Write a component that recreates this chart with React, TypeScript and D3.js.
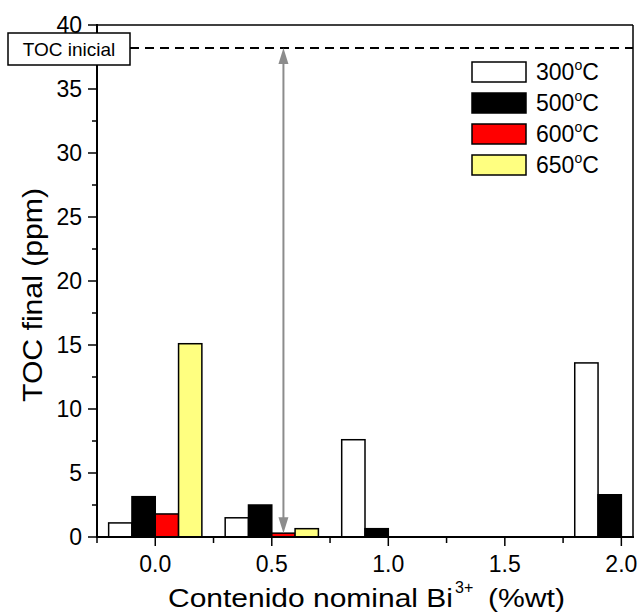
import React from "react";
import * as d3 from "d3";

const categories = [0.0, 0.5, 1.0, 1.5, 2.0];
const seriesNames = ["300", "500", "600", "650"];
const values300: (number | null)[] = [1.1, 1.5, 7.6, null, 13.6];
const values500: (number | null)[] = [3.15, 2.5, 0.65, null, 3.3];
const values600: (number | null)[] = [1.8, 0.3, null, null, null];
const values650: (number | null)[] = [15.1, 0.65, null, null, null];
const yTickValues = [0, 5, 10, 15, 20, 25, 30, 35, 40];
const xTickValues = [0.0, 0.5, 1.0, 1.5, 2.0];
const tocInicial = 38.2;
const arrowX = 0.55;
const arrowBottom = 0.3;

const seriesValues = [values300, values500, values600, values650];
const seriesColors = ["#ffffff", "#000000", "#ff0000", "#ffff80"];

const FONT = "Arial, 'Liberation Sans', sans-serif";

export default function App() {
  const left = 97, right = 633, top = 25, bottom = 537;
  const x = d3.scaleLinear().domain([-0.25, 2.05]).range([left, right]);
  const y = d3.scaleLinear().domain([0, 40]).range([bottom, top]);
  const barW = 0.1;
  const yMinor = d3.range(2.5, 40, 5);
  const xMinor = d3.range(-0.25, 2.0, 0.5);

  const yToc = y(tocInicial);
  const ax = x(arrowX);
  const aTop = y(tocInicial);
  const aBot = y(arrowBottom);
  const grey = "#8c8c8c";

  return (
    <svg width={642} height={614} style={{ position: "absolute", left: 0, top: 0, background: "#fff" }} fontFamily={FONT}>
      <rect x={0} y={0} width={642} height={614} fill="#fff" />
      {/* bars */}
      {seriesValues.map((vals, si) =>
        vals.map((v, ci) =>
          v == null ? null : (
            <rect
              key={`b-${si}-${ci}`}
              x={x(categories[ci] - 0.2 + si * barW)}
              y={y(v)}
              width={x(barW) - x(0)}
              height={y(0) - y(v)}
              fill={seriesColors[si]}
              stroke="#000"
              strokeWidth={1.5}
            />
          )
        )
      )}
      {/* frame */}
      <line x1={left} x2={right} y1={top} y2={top} stroke="#000" strokeWidth={1.5} />
      <line x1={right} x2={right} y1={top} y2={bottom} stroke="#000" strokeWidth={1.5} />
      <line x1={left} x2={left} y1={top - 1} y2={bottom + 1} stroke="#000" strokeWidth={2} />
      <line x1={left - 1} x2={right + 1} y1={bottom} y2={bottom} stroke="#000" strokeWidth={2} />
      {/* y ticks */}
      {yTickValues.map((t) => (
        <g key={`yt-${t}`}>
          <line x1={left - 9} x2={left} y1={y(t)} y2={y(t)} stroke="#000" strokeWidth={1.5} />
          <text x={82} y={y(t)} dy="0.36em" textAnchor="end" fontSize={23}>
            {t}
          </text>
        </g>
      ))}
      {yMinor.map((t) => (
        <line key={`ym-${t}`} x1={left - 5} x2={left} y1={y(t)} y2={y(t)} stroke="#000" strokeWidth={1.5} />
      ))}
      {/* x ticks */}
      {xTickValues.map((t) => (
        <g key={`xt-${t}`}>
          <line x1={x(t)} x2={x(t)} y1={bottom} y2={bottom + 9} stroke="#000" strokeWidth={1.5} />
          <text x={x(t)} y={572} textAnchor="middle" fontSize={23}>
            {d3.format(".1f")(t)}
          </text>
        </g>
      ))}
      {xMinor.map((t) => (
        <line key={`xm-${t}`} x1={x(t)} x2={x(t)} y1={bottom} y2={bottom + 6} stroke="#000" strokeWidth={1.5} />
      ))}
      {/* TOC inicial dashed line */}
      <line x1={130} x2={right} y1={yToc} y2={yToc} stroke="#000" strokeWidth={2} strokeDasharray="9 6" />
      <rect x={8} y={33} width={122} height={32} fill="#fff" stroke="#000" strokeWidth={1.5} />
      <text x={69} y={56} textAnchor="middle" fontSize={19}>TOC inicial</text>
      {/* arrow */}
      <line x1={ax} x2={ax} y1={aTop + 12} y2={aBot - 12} stroke={grey} strokeWidth={2} />
      <path d={`M${ax},${aTop} L${ax - 5},${aTop + 16} L${ax + 5},${aTop + 16} Z`} fill={grey} />
      <path d={`M${ax},${aBot} L${ax - 5},${aBot - 16} L${ax + 5},${aBot - 16} Z`} fill={grey} />
      {/* legend */}
      {seriesNames.map((s, i) => (
        <g key={`lg-${s}`} transform={`translate(0, ${i * 31})`}>
          <rect x={472} y={62} width={54} height={20} fill={seriesColors[i]} stroke="#000" strokeWidth={1.5} />
          <text x={536} y={80} fontSize={23}>
            {s}
            <tspan fontSize={14} dy={-10}>o</tspan>
            <tspan dy={10}>C</tspan>
          </text>
        </g>
      ))}
      {/* axis titles */}
      <text
        transform="translate(42,295) rotate(-90)"
        textAnchor="middle"
        fontSize={27}
        textLength={214}
        lengthAdjust="spacingAndGlyphs"
      >
        TOC final (ppm)
      </text>
      <text x={168} y={607} fontSize={26} textLength={285} lengthAdjust="spacingAndGlyphs">
        Contenido nominal Bi
      </text>
      <text x={455} y={593} fontSize={16}>3+</text>
      <text x={488} y={607} fontSize={26} textLength={77} lengthAdjust="spacingAndGlyphs">
        (%wt)
      </text>
    </svg>
  );
}
